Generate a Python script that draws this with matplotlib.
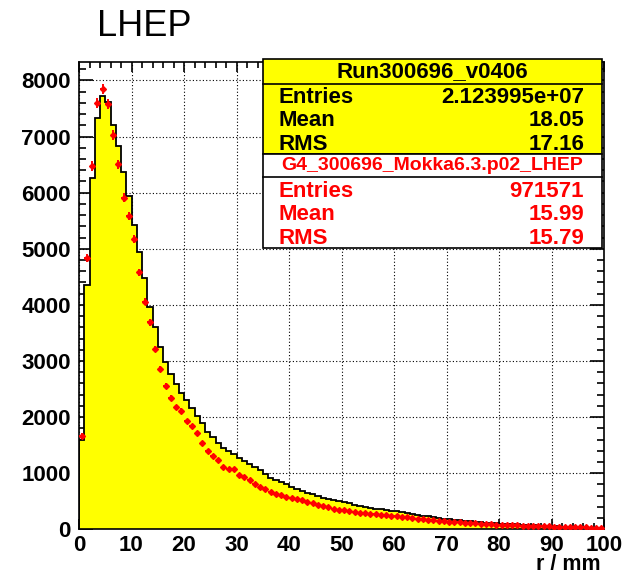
import numpy as np
import matplotlib
matplotlib.use("Agg")
import matplotlib.pyplot as plt
from matplotlib.patches import Rectangle
from matplotlib.lines import Line2D
from matplotlib.ticker import MultipleLocator

plt.rcParams['font.family'] = ['Liberation Sans', 'DejaVu Sans']
plt.rcParams['font.weight'] = 'bold'

# r / mm binning (1 mm bins from 0 to 100)
bin_edges = np.arange(0, 101, 1)

# Run300696_v0406 (yellow histogram)
run_counts = [
    1590, 4357, 6270, 7325, 7715, 7610, 7200, 6825, 6374, 5935,
    5424, 4950, 4474, 3968, 3601, 3244, 2988, 2763, 2590, 2424,
    2305, 2157, 2025, 1890, 1740, 1640, 1544, 1455, 1396, 1342,
    1276, 1217, 1164, 1110, 1050, 990, 920, 880, 845, 805,
    760, 725, 690, 655, 625, 595, 565, 540, 520, 500,
    480, 460, 440, 420, 400, 385, 370, 355, 345, 335,
    325, 310, 295, 280, 262, 245, 232, 220, 205, 192,
    180, 170, 162, 152, 143, 135, 128, 120, 112, 106,
    100, 95, 89, 84, 78, 72, 68, 64, 60, 56,
    52, 49, 46, 43, 40, 37, 35, 32, 30, 28,
]

# G4_300696_Mokka6.3.p02_LHEP (red points)
sim_counts = [
    1670, 4842, 6476, 7594, 7849, 7576, 7029, 6506, 5911, 5590,
    5169, 4581, 4057, 3690, 3209, 2863, 2560, 2346, 2175, 2109,
    1930, 1836, 1711, 1533, 1396, 1301, 1235, 1105, 1080, 1080,
    963, 938, 879, 815, 750, 718, 665, 628, 606, 581,
    558, 540, 520, 492, 465, 440, 415, 395, 370, 352,
    340, 326, 310, 298, 288, 278, 268, 258, 250, 240,
    232, 222, 212, 202, 192, 182, 172, 163, 155, 145,
    138, 130, 124, 117, 110, 104, 98, 93, 88, 84,
    80, 76, 72, 68, 65, 62, 58, 55, 52, 50,
    47, 44, 42, 40, 38, 35, 33, 31, 29, 27,
]

run_stats = [("Entries", "2.123995e+07"), ("Mean", "18.05"), ("RMS", "17.16")]
sim_stats = [("Entries", "971571"), ("Mean", "15.99"), ("RMS", "15.79")]

W, H = 624, 578


def fx(x):
    return x / W


def fy(y):
    return 1 - y / H


fig = plt.figure(figsize=(W / 100, H / 100), dpi=100)
ax = fig.add_axes([fx(79), fy(529.3), (604 - 79) / W, (529.3 - 61.7) / H])

run_counts = np.array(run_counts)
sim_counts = np.array(sim_counts)
centers = bin_edges[:-1] + 0.5

ax.stairs(run_counts, bin_edges, fill=True, color='#ffff00', zorder=2)
ax.stairs(run_counts, bin_edges, color='black', lw=1.3, zorder=3)
ax.errorbar(centers, sim_counts, xerr=0.5, yerr=np.sqrt(sim_counts),
            fmt='D', ms=3, color='red', ecolor='red', elinewidth=1.4,
            capsize=0, zorder=4)

ax.set_xlim(0, 100)
ax.set_ylim(0, 8335)
ax.xaxis.set_major_locator(MultipleLocator(10))
ax.xaxis.set_minor_locator(MultipleLocator(2))
ax.yaxis.set_major_locator(MultipleLocator(1000))
ax.yaxis.set_minor_locator(MultipleLocator(200))

ax.tick_params(which='both', direction='in', top=True, right=True, width=1.2)
ax.tick_params(axis='y', which='major', length=10)
ax.tick_params(axis='y', which='minor', length=5)
ax.tick_params(axis='x', which='major', length=7)
ax.tick_params(axis='x', which='minor', length=4)
ax.tick_params(labelsize=16, pad=4)
ax.tick_params(axis='y', pad=6)

ax.set_axisbelow(True)
ax.grid(which='major', ls=(0, (1, 2)), color='black', lw=0.8)
for s in ax.spines.values():
    s.set_linewidth(1.2)

# stats box of the data run
fig.add_artist(Rectangle((fx(263), fy(154)), (602 - 263) / W, (154 - 59) / H,
                         transform=fig.transFigure, facecolor='#ffff00',
                         edgecolor='black', lw=1.2))
fig.add_artist(Line2D([fx(263), fx(602)], [fy(84.3), fy(84.3)],
                      transform=fig.transFigure, color='black', lw=1.2))
fig.text(fx(432), fy(72), "Run300696_v0406", ha='center', va='center', fontsize=16)
for i, (name, val) in enumerate(run_stats):
    y = fy(98 + i * 23)
    fig.text(fx(279), y, name, ha='left', va='center', fontsize=16)
    fig.text(fx(584), y, val, ha='right', va='center', fontsize=16)

# stats box of the simulation
fig.add_artist(Rectangle((fx(263), fy(248.3)), (602 - 263) / W, (248.3 - 154) / H,
                         transform=fig.transFigure, facecolor='white',
                         edgecolor='black', lw=1.2))
fig.add_artist(Line2D([fx(263), fx(602)], [fy(176.7), fy(176.7)],
                      transform=fig.transFigure, color='black', lw=1.2))
fig.text(fx(432), fy(165), "G4_300696_Mokka6.3.p02_LHEP", ha='center', va='center',
         fontsize=14, color='red')
for i, (name, val) in enumerate(sim_stats):
    y = fy(191 + i * 23.5)
    fig.text(fx(279), y, name, ha='left', va='center', fontsize=16, color='red')
    fig.text(fx(584), y, val, ha='right', va='center', fontsize=16, color='red')

fig.text(fx(97), fy(27), "LHEP", ha='left', va='center', fontsize=26, weight='normal')
fig.text(fx(601), fy(565), "r / mm", ha='right', va='center', fontsize=15.5)

fig.savefig('out.png', dpi=100)
